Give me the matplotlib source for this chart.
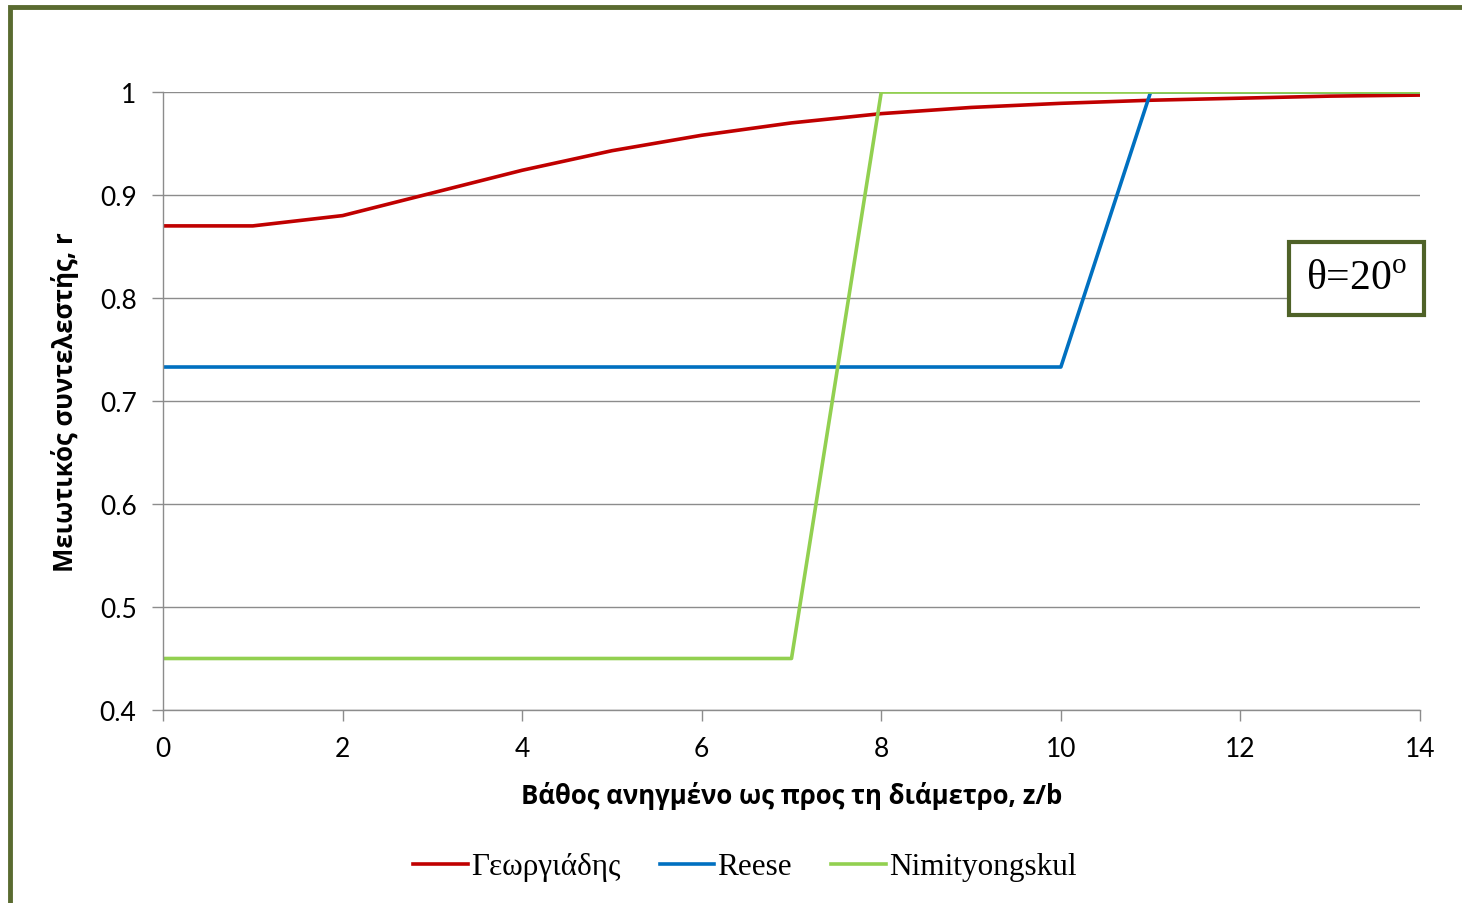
import matplotlib
matplotlib.use("Agg")
import matplotlib.pyplot as plt
from matplotlib.patches import Rectangle

# reduction factor r against normalised depth z/b
z = [0, 1, 2, 3, 4, 5, 6, 7, 8, 9, 10, 11, 12, 13, 14]
r_georgiadis = [0.87, 0.87, 0.88, 0.902, 0.924, 0.943, 0.958, 0.970,
                0.979, 0.985, 0.989, 0.992, 0.994, 0.996, 0.997]
z_reese = [0, 10, 11, 14]
r_reese = [0.733, 0.733, 1.0, 1.0]
z_nimit = [0, 7, 8, 14]
r_nimit = [0.45, 0.45, 1.0, 1.0]

xticks = [0, 2, 4, 6, 8, 10, 12, 14]
yticks = [0.4, 0.5, 0.6, 0.7, 0.8, 0.9, 1.0]
ytick_labels = ["0.4", "0.5", "0.6", "0.7", "0.8", "0.9", "1"]

plt.rcParams['mathtext.fontset'] = 'custom'
plt.rcParams['mathtext.rm'] = 'Liberation Serif'

sans = ['Lato', 'DejaVu Sans']
sans_bold = ['Open Sans', 'DejaVu Sans']
serif = ['Liberation Serif', 'DejaVu Serif']

fig = plt.figure(figsize=(14.62, 9.04), dpi=100)
fig.patches.append(Rectangle((10 / 1462, -0.1), 1.2, 1 - 8 / 904 + 0.1,
                             transform=fig.transFigure, fill=False,
                             edgecolor='#5a6b30', linewidth=3.5))

ax = fig.add_axes([163 / 1462, 1 - 711 / 904, (1420 - 163) / 1462, (711 - 93) / 904])

ax.plot(z, r_georgiadis, color='#c00000', lw=2.6, label='Γεωργιάδης')
ax.plot(z_reese, r_reese, color='#0070c0', lw=2.6, label='Reese')
ax.plot(z_nimit, r_nimit, color='#92d050', lw=2.6, label='Nimityongskul')

ax.set_xlim(0, 14)
ax.set_ylim(0.4, 1.0)
ax.set_xticks(xticks)
ax.set_yticks(yticks)
ax.set_yticklabels(ytick_labels)
ax.grid(axis='y', color='#8c8c8c', lw=1)
ax.set_axisbelow(True)
for s in ['top', 'right']:
    ax.spines[s].set_visible(False)
for s in ['left', 'bottom']:
    ax.spines[s].set_color('#8c8c8c')
    ax.spines[s].set_linewidth(1)
ax.tick_params(direction='out', length=8, width=1, color='#8c8c8c',
               labelsize=19)
ax.tick_params(axis='x', pad=11)
ax.tick_params(axis='y', pad=11)
for lab in ax.get_xticklabels() + ax.get_yticklabels():
    lab.set_family(sans)

ax.set_xlabel('Βάθος ανηγμένο ως προς τη διάμετρο, z/b', family=sans_bold,
              fontweight='bold', fontsize=18.5, labelpad=14)
ax.set_ylabel('Μειωτικός συντελεστής, r', family=sans_bold,
              fontweight='bold', fontsize=18.5, labelpad=15)

# angle annotation box, allowed to spill past the right edge of the axes
ax.text(0.9495, 0.698, r'θ=20$^{\mathrm{o}}$', transform=ax.transAxes,
        family=serif, fontsize=30, ha='center', va='center', clip_on=False,
        bbox=dict(boxstyle='square,pad=0.42', facecolor='white',
                  edgecolor='#4f6228', linewidth=3))

fig.legend(loc='center', bbox_to_anchor=(745 / 1462, 1 - 868 / 904), ncol=3,
           frameon=False, prop={'family': serif, 'size': 22.5},
           handlelength=1.75, handletextpad=0.1, columnspacing=1.25)

fig.savefig('out.png', dpi=100)
